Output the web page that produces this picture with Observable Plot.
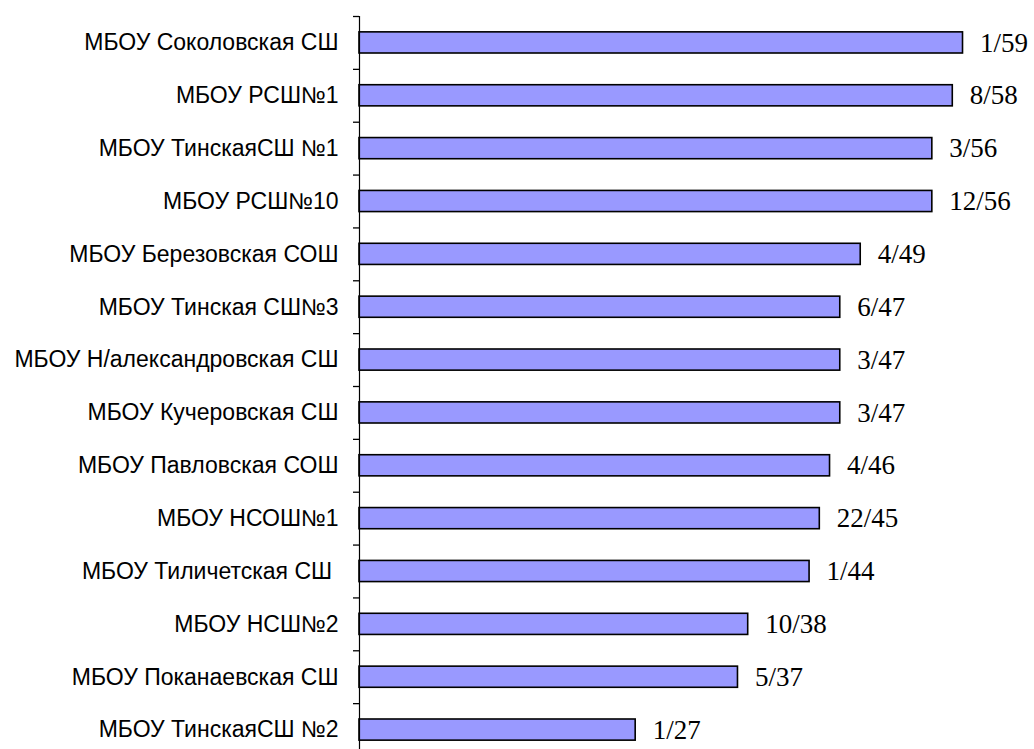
<!DOCTYPE html>
<html><head><meta charset="utf-8">
<script src="https://cdn.jsdelivr.net/npm/d3@7"></script>
<script src="https://cdn.jsdelivr.net/npm/@observablehq/plot@0.6"></script>
<style>body{margin:0;background:#fff}</style>
</head><body><div id="chart"></div>
<script>
const schools = ["МБОУ Соколовская СШ","МБОУ РСШ№1","МБОУ ТинскаяСШ №1","МБОУ РСШ№10","МБОУ Березовская СОШ","МБОУ Тинская СШ№3","МБОУ Н/александровская СШ","МБОУ Кучеровская СШ","МБОУ Павловская СОШ","МБОУ НСОШ№1","МБОУ Тиличетская СШ\u00a0","МБОУ НСШ№2","МБОУ Поканаевская СШ","МБОУ ТинскаяСШ №2"];
const values = [59,58,56,56,49,47,47,47,46,45,44,38,37,27];
const labels = ["1/59","8/58","3/56","12/56","4/49","6/47","3/47","3/47","4/46","22/45","1/44","10/38","5/37","1/27"];
const data = schools.map((s,i)=>({school:s, value:values[i], label:labels[i]}));

const W = 1034, H = 749, mTop = 16, mBottom = -7, mLeft = 359, mRight = 5;
const xMax = 65.5;
const step = (H - mTop - mBottom) / schools.length;

const chart = Plot.plot({
  width: W, height: H,
  marginLeft: mLeft, marginRight: mRight, marginTop: mTop, marginBottom: mBottom,
  x: {domain: [0, xMax], axis: null},
  y: {domain: schools, paddingInner: 0.6, paddingOuter: 0.3, align: 0.5, round: false, label: null, axis: null},
  style: {background: "#fff"},
  marks: [
    Plot.barX(data, {x: "value", y: "school", fill: "#9999ff", stroke: "#000", strokeWidth: 1.6}),
    Plot.ruleX([0], {stroke: "#000", strokeWidth: 1.2}),
    Plot.axisY({text: null, tickSize: 6, dy: -step / 2, stroke: "#000", strokeWidth: 1.3, label: null}),
    Plot.axisY({tickSize: 0, tickPadding: 21, fontSize: 23, fontFamily: "Liberation Sans, Arial, sans-serif", fill: "#000", label: null}),
    Plot.text(data, {x: "value", y: "school", text: "label", dx: 17, textAnchor: "start", fontSize: 27, fontFamily: "Liberation Serif, Times New Roman, serif", fill: "#000"})
  ]
});
document.getElementById("chart").appendChild(chart);
</script></body></html>
